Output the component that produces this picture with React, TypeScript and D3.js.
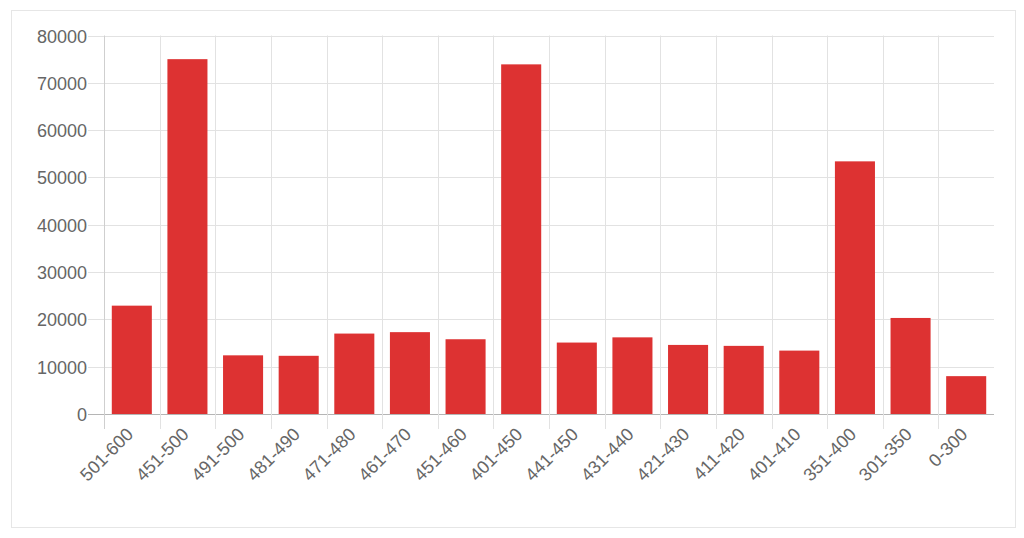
import React, { useRef, useEffect } from 'react';
import * as d3 from 'd3';

const categories = [
  '501-600', '451-500', '491-500', '481-490', '471-480', '461-470', '451-460', '401-450',
  '441-450', '431-440', '421-430', '411-420', '401-410', '351-400', '301-350', '0-300'
];
const values = [
  22900, 75000, 12400, 12300, 17000, 17300, 15800, 73900,
  15100, 16200, 14600, 14400, 13400, 53400, 20300, 8000
];
const yTicks = [0, 10000, 20000, 30000, 40000, 50000, 60000, 70000, 80000];

const W = 1024;
const H = 538;

const App: React.FC = () => {
  const svgRef = useRef<SVGSVGElement>(null);

  useEffect(() => {
    if (!svgRef.current) return;
    const svg = d3.select(svgRef.current);
    svg.selectAll('*').remove();

    const left = 104, right = 994, top = 35.5, bottom = 414;
    const font = '"Liberation Sans", Arial, Helvetica, sans-serif';

    // outer frame
    svg.append('rect')
      .attr('x', 11.5).attr('y', 10.5)
      .attr('width', 1004).attr('height', 517)
      .attr('fill', '#fff')
      .attr('stroke', '#e6e6e6');

    const x = d3.scaleBand<string>().domain(categories).range([left, right]).padding(0);
    const y = d3.scaleLinear().domain([0, 80000]).range([bottom, top]);

    // horizontal grid + tick labels
    const gy = svg.append('g');
    yTicks.forEach(t => {
      const yy = Math.round(y(t)) + 0.5;
      gy.append('line')
        .attr('x1', 88).attr('x2', right)
        .attr('y1', yy).attr('y2', yy)
        .attr('stroke', t === 0 ? '#b5b5b5' : '#e2e2e2')
        .attr('stroke-width', 1);
      gy.append('text')
        .attr('x', 87).attr('y', yy)
        .attr('dy', '0.35em')
        .attr('text-anchor', 'end')
        .style('font-family', font)
        .style('font-size', '18px')
        .style('fill', '#666')
        .text(String(t));
    });

    // vertical grid at category boundaries
    const gx = svg.append('g');
    categories.forEach((c, i) => {
      const xx = Math.round(x(c) || 0) + 0.5;
      gx.append('line')
        .attr('x1', xx).attr('x2', xx)
        .attr('y1', top).attr('y2', 429)
        .attr('stroke', i === 0 ? '#cfcfcf' : '#e2e2e2')
        .attr('stroke-width', 1);
    });

    // bars
    const bw = x.bandwidth() * 0.72;
    svg.append('g').selectAll('rect')
      .data(values)
      .enter()
      .append('rect')
      .attr('x', (d, i) => (x(categories[i]) || 0) + (x.bandwidth() - bw) / 2)
      .attr('y', d => y(d))
      .attr('width', bw)
      .attr('height', d => bottom - y(d))
      .attr('fill', '#dd3232');

    // x labels
    svg.append('g').selectAll('text')
      .data(categories)
      .enter()
      .append('text')
      .attr('transform', d => `translate(${(x(d) || 0) + x.bandwidth() / 2 - 2},${431}) rotate(-45)`)
      .attr('text-anchor', 'end')
      .attr('dy', '0.35em')
      .style('font-family', font)
      .style('font-size', '18px')
      .style('fill', '#666')
      .text(d => d);
  }, []);

  return (
    <svg
      ref={svgRef}
      width={W}
      height={H}
      style={{ position: 'absolute', left: 0, top: 0, background: '#fff' }}
      viewBox={`0 0 ${W} ${H}`}
    />
  );
};

export default App;
